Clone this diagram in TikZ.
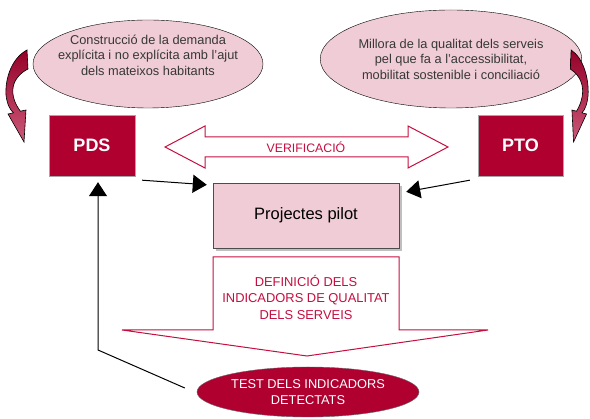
\documentclass[tikz,border=0pt]{standalone}
\usepackage{fontspec}
\setmainfont{Liberation Sans}
\usetikzlibrary{positioning,shapes.geometric,arrows.meta,shadows}
\definecolor{crimson}{RGB}{176,0,48}
\definecolor{rosefill}{RGB}{240,205,214}
\definecolor{redtext}{RGB}{196,16,64}
\definecolor{greytext}{RGB}{55,55,55}

\begin{document}
\begin{tikzpicture}[x=1pt,y=-1pt,
    bubble/.style={draw, ellipse, fill=rosefill, inner sep=0pt},
    plan/.style={draw=gray!70, fill=crimson, text=white, font=\fontsize{18}{20}\selectfont\bfseries, minimum width=86pt, minimum height=61pt},
    fat/.style={line width=1pt, -{Triangle[length=14pt,width=18pt]}},
    bigarrow/.style={draw=redtext, line width=1pt, fill=white},
    txt/.style={align=center, font=\fontsize{12.8}{15.5}\selectfont},
    curlarrow/.style={draw=black, line width=0.6pt, top color=crimson!85!black, bottom color=crimson!65!white}]

    \useasboundingbox (0,0) rectangle (590,419);

    % bubbles on top
    \node[bubble, minimum width=230pt, minimum height=88pt] (demand) at (148,64) {};
    \node[txt, text=greytext] (demandtxt) at (148,55) {Construcció de la demanda\\explícita i no explícita amb l’ajut\\dels mateixos habitants};
    \node[bubble, minimum width=232pt, minimum height=98pt, txt, text=greytext] (quality) at (451,59) {Millora de la qualitat dels serveis\\pel que fa a l’accessibilitat,\\mobilitat sostenible i conciliació};

    % the two plans
    \node[plan] (PDS) at (92,145.5) {PDS};
    \node[plan, minimum width=85pt] (PTO) at (520.5,145.5) {PTO};

    \node[draw=black!70, fill=rosefill, minimum width=186pt, minimum height=65pt, font=\fontsize{16.5}{18}\selectfont,
        drop shadow={shadow xshift=3pt, shadow yshift=-3pt, fill=gray!50, opacity=1}] (pilot) at (306,215.5) {Projectes pilot};

    \node[ellipse, fill=crimson, draw=black!60, minimum width=222pt, minimum height=50pt, inner sep=0pt, txt, text=white] (test) at (308,392) {TEST DELS INDICADORS\\DETECTATS};

    % block arrows
    \draw[bigarrow] (165,147) -- (205,126) -- (205,137) -- (408,137) -- (408,126) -- (448,147) -- (408,168) -- (408,157) -- (205,157) -- (205,168) -- cycle;
    \node[text=redtext, font=\fontsize{12.3}{14}\selectfont] (verif) at (306,147) {VERIFICACIÓ};

    \draw[bigarrow] (213,257) -- (399,257) -- (399,330) -- (488,330) -- (307,356) -- (122,330) -- (213,330) -- cycle;
    \node[txt, text=redtext, font=\fontsize{12.9}{16.5}\selectfont] (indic) at (306,297) {DEFINICIÓ DELS\\INDICADORS DE QUALITAT\\DELS SERVEIS};

    % curved arrows from the bubbles
    \shade[curlarrow] (27,50) .. controls (12,58) and (5,78) .. (6,95) .. controls (7,104) and (10,110) .. (13.6,112.8) -- (8,114) -- (24,142) -- (26,110) -- (20.4,111.2) .. controls (15,104) and (12,96) .. (13,88) .. controls (14,80) and (20,73) .. (28,69) -- cycle;
    \begin{scope}[shift={(593,0)}, xscale=-0.81]
        \shade[curlarrow] (27,50) .. controls (12,58) and (5,78) .. (6,95) .. controls (7,104) and (10,110) .. (13.6,112.8) -- (8,114) -- (24,142) -- (26,110) -- (20.4,111.2) .. controls (15,104) and (12,96) .. (13,88) .. controls (14,80) and (20,73) .. (28,69) -- cycle;
    \end{scope}

    % connectors
    \draw[fat] ([shift={(7,4)}]PDS.south east) -- ([shift={(-6,2)}]pilot.north west);
    \draw[fat] ([shift={(-8,4)}]PTO.south west) -- ([shift={(7,9)}]pilot.north east);
    \coordinate (corner) at (98,350);
    \draw[fat] ([shift={(-12,-4)}]test.west) -- (corner) -- ([shift={(6,6)}]PDS.south);
\end{tikzpicture}
\end{document}
